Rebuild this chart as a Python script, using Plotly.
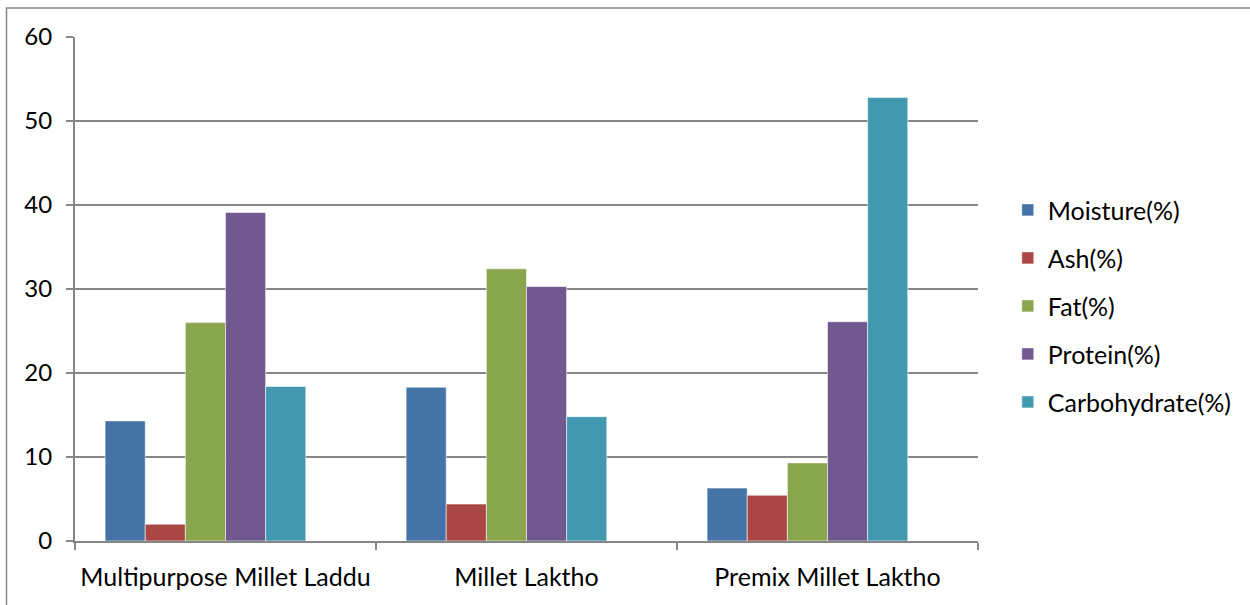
import plotly.graph_objects as go

# Proximate composition of the millet products (%)
products = ["Multipurpose Millet Laddu", "Millet Laktho", "Premix Millet Laktho"]
moisture = [14.3, 18.3, 6.3]
ash = [2.0, 4.4, 5.45]
fat = [26.0, 32.4, 9.3]
protein = [39.1, 30.3, 26.1]
carbohydrate = [18.4, 14.8, 52.8]

series_names = ["Moisture(%)", "Ash(%)", "Fat(%)", "Protein(%)", "Carbohydrate(%)"]
series_values = [moisture, ash, fat, protein, carbohydrate]
series_colors = ["#4572A7", "#AA4643", "#89A54E", "#71588F", "#4198AF"]

y_ticks = [0, 10, 20, 30, 40, 50, 60]

FONT = "Lato, Carlito, Calibri, sans-serif"
GRID = "#868686"

fig = go.Figure()
for i, (name, vals, col) in enumerate(zip(series_names, series_values, series_colors)):
    fig.add_trace(go.Bar(
        x=products, y=vals, name=name,
        marker=dict(color=col, line=dict(color="rgba(255,255,255,0.55)", width=1)),
        legendgroup=f"g{i}",
    ))

# an empty sixth series keeps a blank slot at the right of each group
fig.add_trace(go.Bar(
    x=products, y=[None] * len(products), name="",
    showlegend=False, hoverinfo="skip",
))

W, H = 1250, 605
L, R, T, B = 75, 272, 37, 64
pw, ph = W - L - R, H - T - B

fig.update_layout(
    width=W, height=H,
    margin=dict(l=L, r=R, t=T, b=B),
    paper_bgcolor="white", plot_bgcolor="white",
    barmode="group", bargap=0.2, bargroupgap=0,
    font=dict(family=FONT, size=25, color="black"),
    showlegend=True,
    legend=dict(
        x=1.033, y=0.466, xanchor="left", yanchor="middle",
        font=dict(family=FONT, size=25, color="black"),
        tracegroupgap=12.5, traceorder="grouped",
        bgcolor="rgba(0,0,0,0)", itemwidth=30,
    ),
    xaxis=dict(
        type="category", tickson="boundaries",
        ticks="outside", ticklen=7, tickcolor=GRID, tickwidth=2,
        showline=True, linecolor=GRID, linewidth=2,
        showgrid=False, ticklabelstandoff=13,
        tickfont=dict(family=FONT, size=25, color="black"),
    ),
    yaxis=dict(
        range=[0, 60], tickvals=y_ticks,
        ticks="outside", ticklen=7, tickcolor=GRID, tickwidth=2,
        showline=True, linecolor=GRID, linewidth=2,
        showgrid=True, gridcolor=GRID, gridwidth=2,
        zeroline=False, ticklabelstandoff=9,
        tickfont=dict(family=FONT, size=24, color="black"),
    ),
    shapes=[dict(
        type="rect", xref="paper", yref="paper",
        x0=(6.5 - L) / pw, x1=(W + 5 - L) / pw,
        y0=-(H + 5 - (H - B)) / ph, y1=1 + (T - 8) / ph,
        line=dict(color="#868686", width=1.5), fillcolor="rgba(0,0,0,0)",
        layer="below",
    )],
)

fig.write_html("out.html")
